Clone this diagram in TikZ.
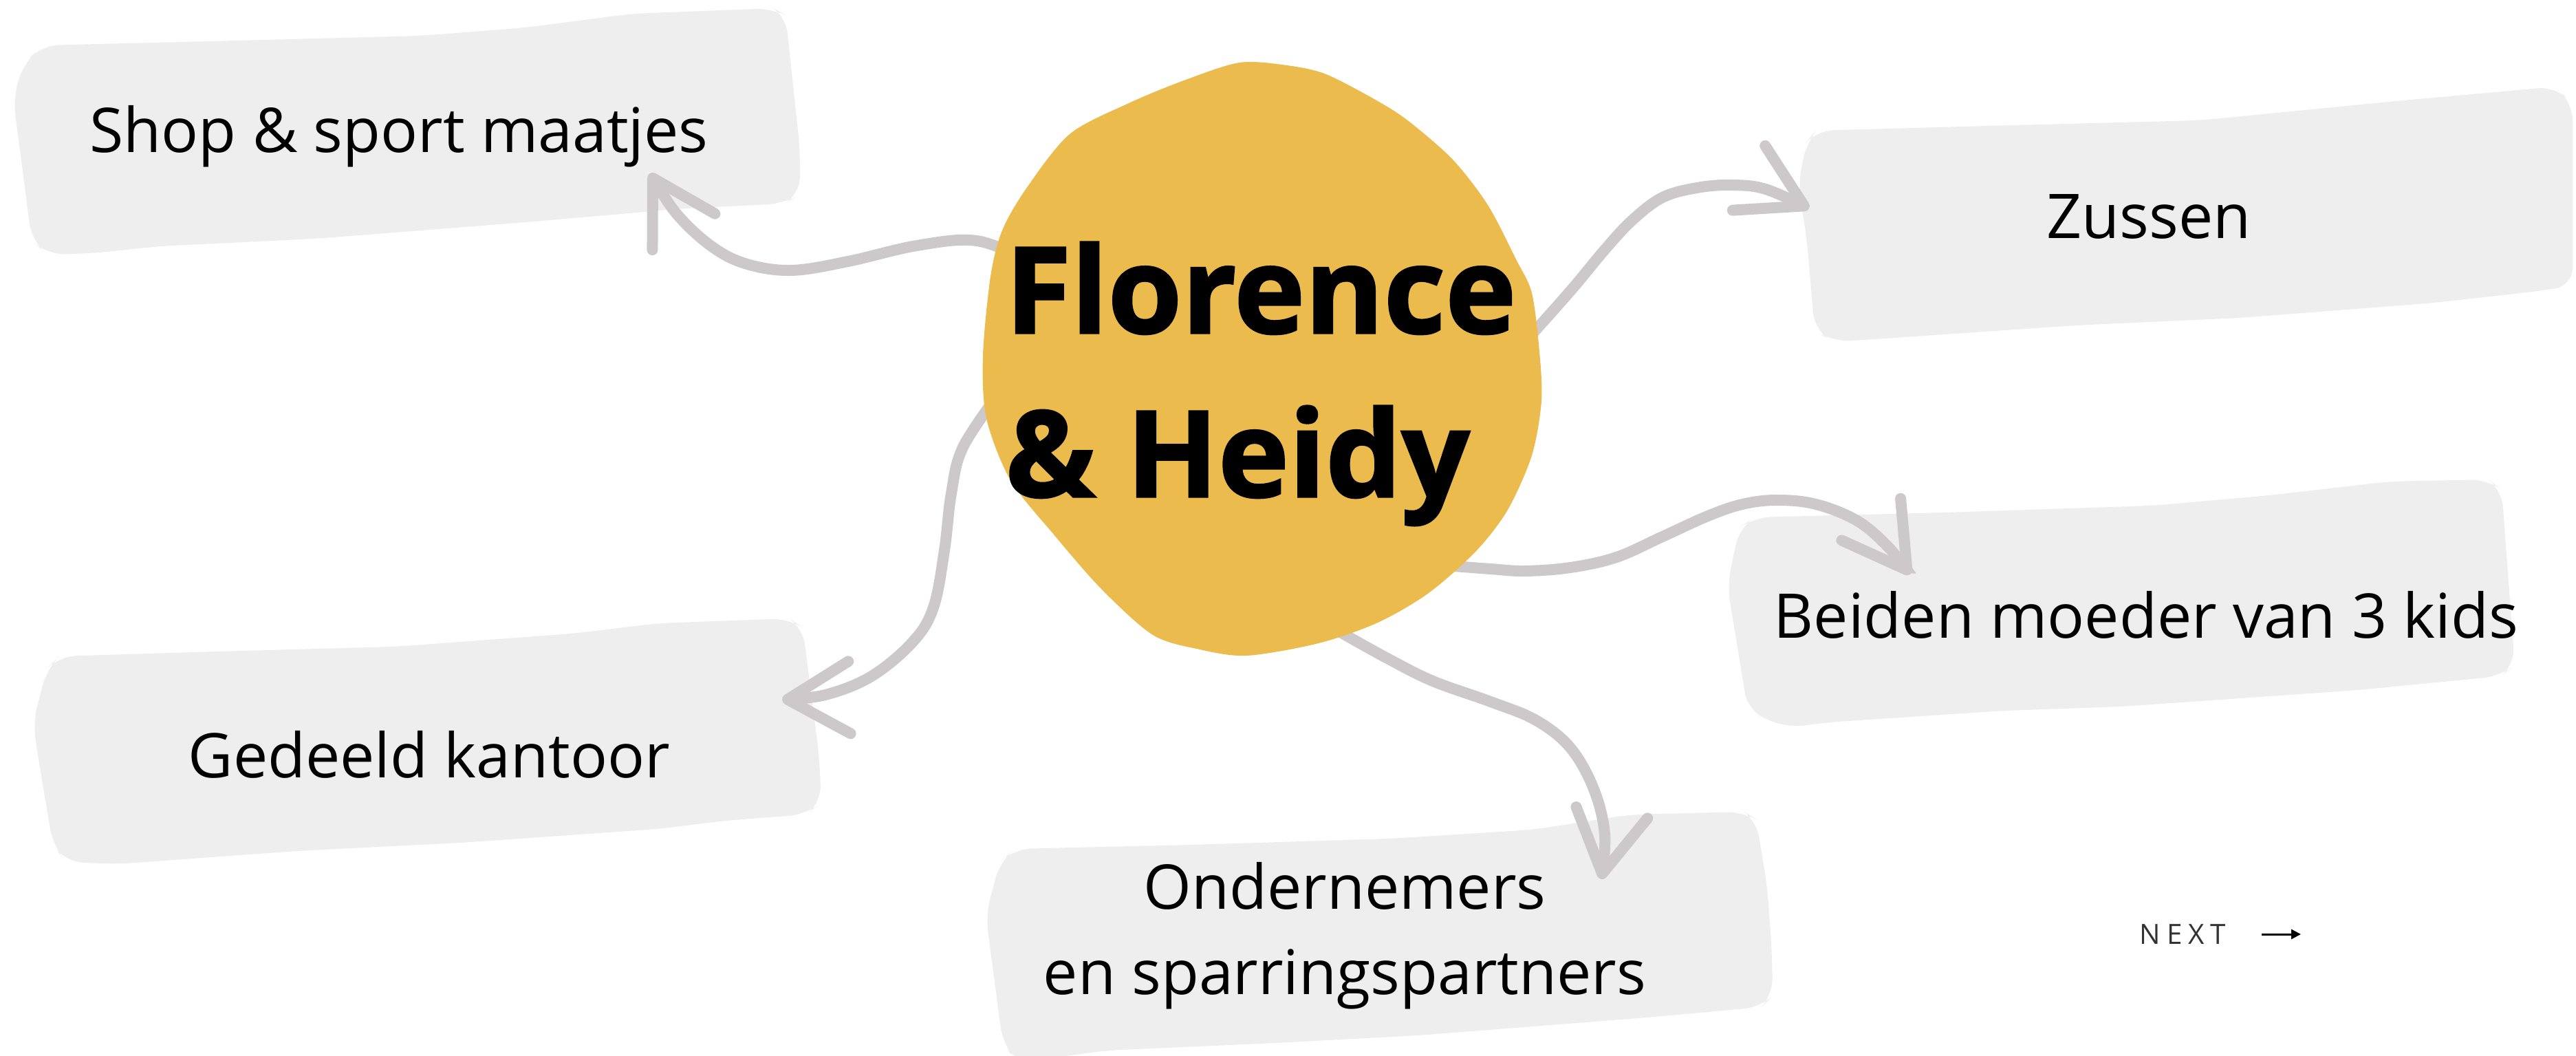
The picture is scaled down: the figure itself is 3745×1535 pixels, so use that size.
\documentclass[tikz,border=0pt]{standalone}
\usepackage{fontspec}
\setmainfont{Open Sans}
\newfontfamily\hubfont{Open Sans}[BoldFeatures={FakeBold=1.6}]
\newfontfamily\nextfont{Open Sans}[LetterSpace=22]
\usetikzlibrary{arrows.meta}

\definecolor{blobyellow}{HTML}{ECBB4D}
\definecolor{papergray}{HTML}{EEEEEE}
\definecolor{linkgray}{HTML}{CDC9CA}

\pgfdeclarelayer{paperlayer}
\pgfdeclarelayer{linklayer}
\pgfdeclarelayer{bloblayer}
\pgfsetlayers{paperlayer,linklayer,bloblayer,main}

\tikzset{
  hubtext/.style={shape=circle, minimum size=76mm, inner sep=-15mm, align=left,
    font=\hubfont\fontsize{49.6pt}{67.7pt}\selectfont\bfseries},
  tagtext/.style={anchor=base, inner sep=0pt, font=\fontsize{25.5pt}{35.3pt}\selectfont},
  nexttext/.style={anchor=base west, inner sep=0pt, text=black!80,
    font=\nextfont\fontsize{11.5pt}{14pt}\selectfont},
  paperbox/.style={fill=papergray, rounded corners=2.5mm},
  link/.style={draw=linkgray, line width=1.6mm, line cap=round,
    -{Straight Barb[length=9mm, width=10.5mm, round]}},
  nextarrow/.style={draw=black, line width=0.3mm, -{Triangle[length=1.4mm, width=1.4mm]}}
}

\begin{document}
\begin{tikzpicture}[x=0.1mm, y=-0.1mm]
\useasboundingbox (0,0) rectangle (3745,1535);

% centre and labels
\node[hubtext] (hub) at (1833,558) {Florence\\\& Heidy};

\node[tagtext] (shop) at (580,222) {Shop \& sport maatjes};
\node[tagtext] (zussen) at (3124,347) {Zussen};
\node[tagtext] (moeders) at (3120,928) {Beiden moeder van 3 kids};
\node[tagtext] (kantoor) at (624,1130) {Gedeeld kantoor};
\node[tagtext, anchor=center, align=center] (partners) at (1955,1360)
  {Ondernemers\\en sparringspartners};

\node[nexttext] (next) at (3110,1372) {NEXT};

% arrow tips
\coordinate (shop-in) at (945,252);
\coordinate (zussen-in) at (2630,303);
\coordinate (moeders-in) at (2777,835);
\coordinate (kantoor-in) at (1137,1017);
\coordinate (partners-in) at (2328,1278);
\coordinate (next-from) at (3288,1358);
\coordinate (next-to) at (3345,1358);

% paper strips
\begin{pgfonlayer}{paperlayer}
  \fill[paperbox] (61,66) -- (306,60) -- (612,52) -- (765,40) -- (918,20) -- (1125,12)
    -- (1142,22) -- (1163,217) -- (1163,283) -- (1140,296) -- (995,303) -- (765,323)
    -- (459,347) -- (230,358) -- (138,368) -- (69,370) -- (46,350) -- (31,233)
    -- (19,143) -- (34,93) -- cycle;
  \fill[paperbox] (2640,190) -- (2889,183) -- (3198,175) -- (3472,148) -- (3715,126)
    -- (3740,150) -- (3740,415) -- (3700,422) -- (3541,440) -- (3258,462) -- (3017,473)
    -- (2726,493) -- (2665,497) -- (2638,480) -- (2627,350) -- (2614,267) -- (2627,205) -- cycle;
  \fill[paperbox] (2550,752) -- (2829,745) -- (3129,735) -- (3300,720) -- (3472,700)
    -- (3618,697) -- (3637,712) -- (3656,967) -- (3635,983) -- (3429,1003) -- (3086,1027)
    -- (2915,1033) -- (2657,1050) -- (2597,1058) -- (2541,1033) -- (2511,850) -- (2529,767) -- cycle;
  \fill[paperbox] (86,954) -- (316,947) -- (574,940) -- (832,921) -- (957,906) -- (1148,899)
    -- (1167,912) -- (1191,1100) -- (1194,1167) -- (1172,1184) -- (1053,1193) -- (957,1205)
    -- (670,1225) -- (431,1237) -- (172,1256) -- (96,1253) -- (77,1229) -- (57,1110)
    -- (48,1052) -- (57,1014) -- (69,971) -- cycle;
  \fill[paperbox] (1475,1234) -- (1732,1228) -- (2022,1219) -- (2229,1206) -- (2370,1184)
    -- (2536,1180) -- (2553,1191) -- (2569,1287) -- (2576,1383) -- (2577,1448) -- (2561,1464)
    -- (2395,1479) -- (2063,1505) -- (1856,1516) -- (1607,1527) -- (1480,1545) -- (1458,1518)
    -- (1433,1330) -- (1454,1252) -- cycle;
\end{pgfonlayer}

% links
\begin{pgfonlayer}{linklayer}
  \draw[link] plot[smooth, tension=0.6] coordinates {(hub.152) (1420,350) (1333,357)
    (1233,380) (1150,393) (1083,383) (1033,357) (983,310) (shop-in)};
  \draw[link] plot[smooth, tension=0.6] coordinates {(hub.8) (2283,423) (2333,363)
    (2373,320) (2417,287) (2467,273) (2517,269) (2567,275) (zussen-in)};
  \draw[link] plot[smooth, tension=0.6] coordinates {(hub.-44) (2167,827) (2217,830)
    (2283,825) (2350,810) (2417,780) (2483,750) (2533,733) (2583,727) (2640,733)
    (2700,757) (2745,795) (moeders-in)};
  \draw[link] plot[smooth, tension=0.6] coordinates {(hub.182) (1400,650) (1383,717)
    (1373,800) (1357,883) (1327,933) (1267,983) (1200,1010) (kantoor-in)};
  \draw[link] plot[smooth, tension=0.6] coordinates {(hub.-72) (2017,957) (2083,990)
    (2167,1020) (2233,1047) (2283,1087) (2317,1147) (2333,1213) (partners-in)};
\end{pgfonlayer}

% blob
\begin{pgfonlayer}{bloblayer}
  \fill[blobyellow] plot[smooth cycle, tension=0.5] coordinates {(1802,91) (1871,95)
    (1928,108) (2003,147) (2049,177) (2112,232) (2163,298) (2204,377) (2227,426)
    (2238,511) (2241,583) (2227,662) (2192,741) (2146,801) (2077,862) (2003,905)
    (1917,935) (1813,953) (1744,944) (1676,923) (1601,856) (1532,777) (1469,698)
    (1434,608) (1429,517) (1440,402) (1457,335) (1492,274) (1555,195) (1641,150) (1721,117)};
\end{pgfonlayer}

\draw[nextarrow] (next-from) -- (next-to);
\end{tikzpicture}
\end{document}
